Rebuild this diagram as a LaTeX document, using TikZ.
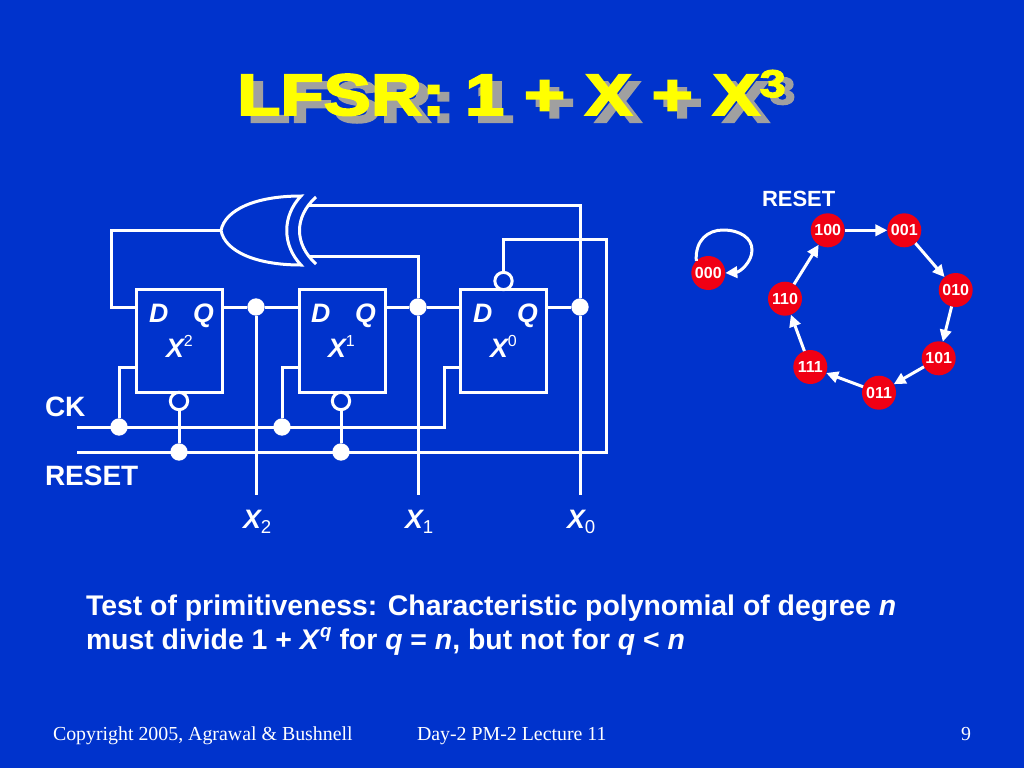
\documentclass[tikz,border=0pt]{standalone}
\usepackage{fontspec}
\setmainfont{Liberation Sans}
\newfontfamily\serifx{Liberation Serif}
\newfontfamily\titlef{Liberation Sans}[BoldFeatures={FakeBold=3}]
\usetikzlibrary{arrows.meta}
\definecolor{bgblue}{RGB}{0,51,204}
\definecolor{titlegray}{RGB}{160,160,160}
\definecolor{stred}{RGB}{240,0,20}
\definecolor{ttl}{RGB}{255,255,0}
\newcommand\supx[1]{\raisebox{0.38em}{\fontsize{12}{12}\mdseries\upshape #1}}
\newcommand\subx[1]{\raisebox{-0.2em}{\fontsize{14}{14}\mdseries\upshape #1}}
\newcommand\ttext{\fontsize{44}{50}\titlef\bfseries LFSR: 1 + X + X\raisebox{13.5pt}{\fontsize{29}{30}\selectfont 3}}
\tikzset{
  x=0.75pt,y=-0.75pt,
  wire/.style={draw=white,line width=2.25pt,line join=miter},
  ffbox/.style={draw=white,line width=2.25pt,minimum width=64.5pt,minimum height=77pt,inner sep=0pt,outer sep=0pt},
  dotn/.style={circle,fill=white,minimum size=13pt,inner sep=0pt,outer sep=0pt},
  bub/.style={circle,draw=white,line width=2.25pt,minimum size=13pt,inner sep=0pt,outer sep=0pt},
  lbl/.style={anchor=base west,inner sep=0pt,outer sep=0pt,text=white,font=\fontsize{21}{24}\selectfont\bfseries},
  ilbl/.style={lbl,font=\fontsize{20}{24}\selectfont\bfseries\itshape},
  body/.style={lbl,font=\fontsize{21.3}{24}\selectfont\bfseries},
  foot/.style={lbl,font=\fontsize{14.9}{16}\serifx},
  st/.style={circle,fill=stred,minimum size=25.5pt,inner sep=0pt,outer sep=0pt,text=white,font=\fontsize{12}{14}\selectfont\bfseries},
  trans/.style={draw=white,line width=2.25pt,-{Triangle[length=9pt,width=8.5pt]}},
  ttlnode/.style={anchor=base west,inner sep=0pt,xscale=1.205},
}
\begin{document}
\begin{tikzpicture}
\fill[bgblue,use as bounding box] (0,0) rectangle (1024,768);

% title
\node[ttlnode,text=titlegray] (titleshadow) at (246.7,122.3) {\ttext};
\node[ttlnode,text=ttl] (title) at (237,115) {\ttext};

% flip-flops
\node[ffbox] (b2) at (179,341) {};
\node[ffbox] (b1) at (342,341) {};
\node[ffbox] (b0) at (503.5,341) {};

% bubbles
\node[bub] (r2) at (179,401) {};
\node[bub] (r1) at (341,401) {};
\node[bub] (r0) at (503.5,281) {};

% junctions
\node[dotn] (q2) at (256,307) {};
\node[dotn] (q1) at (418,307) {};
\node[dotn] (q0) at (580,307) {};
\node[dotn] (c2) at (119,427) {};
\node[dotn] (c1) at (282,427) {};
\node[dotn] (s2) at (179,452) {};
\node[dotn] (s1) at (341,452) {};

% free ends
\coordinate (ckl) at (77,427);
\coordinate (ckr) at (444,427);
\coordinate (rsl) at (77,452);
\coordinate (rsr) at (606,452);
\coordinate (x2e) at (256,495);
\coordinate (x1e) at (418,495);
\coordinate (x0e) at (580,495);
\coordinate (xorin) at (221,230.5);
\coordinate (xoru) at (308,205);
\coordinate (xorl) at (308,256);

% XOR gate
\draw[wire] (301,196) .. controls (255,196) and (225,210) .. (xorin)
  .. controls (225,251) and (255,265) .. (301,265)
  .. controls (282,245) and (282,216) .. cycle;
\draw[wire] (316,197) .. controls (294,217) and (294,244) .. (316,264);

% shift wires
\draw[wire] (b2.west |- q2) -- ++(-25,0) |- (xorin);
\draw[wire] (b2.east |- q2) -- (q2) -- (b1.west |- q2);
\draw[wire] (b1.east |- q1) -- (q1) -- (b0.west |- q1);
\draw[wire] (b0.east |- q0) -- (q0);
\draw[wire] (xoru) -| (q0);
\draw[wire] (xorl) -| (q1);
\draw[wire] (q2) -- (x2e);
\draw[wire] (q1) -- (x1e);
\draw[wire] (q0) -- (x0e);

% clock
\draw[wire] (ckl) -- (ckr) |- (b0.west |- 0,367);
\draw[wire] (c2) |- (b2.west |- 0,367);
\draw[wire] (c1) |- (b1.west |- 0,367);

% reset
\draw[wire] (rsl) -- (rsr) |- (503.5,239) -- (r0);
\draw[wire] (s2) -- (r2);
\draw[wire] (s1) -- (r1);

% FF labels
\node[ilbl] (d2) at (149,322.5) {D};
\node[ilbl] (q2l) at (193,322.5) {Q};
\node[ilbl] (n2) at (166,357) {X\supx{2}};
\node[ilbl] (d1) at (311,322.5) {D};
\node[ilbl] (q1l) at (355,322.5) {Q};
\node[ilbl] (n1) at (328,357) {X\supx{1}};
\node[ilbl] (d0) at (473,322.5) {D};
\node[ilbl] (q0l) at (517,322.5) {Q};
\node[ilbl] (n0) at (490,357) {X\supx{0}};

\node[lbl] (ck) at (45,416) {CK};
\node[lbl] (rst) at (45,485) {RESET};
\node[ilbl] (o2) at (243,528) {X\subx{2}};
\node[ilbl] (o1) at (405,528) {X\subx{1}};
\node[ilbl] (o0) at (567,528) {X\subx{0}};

% state graph
\node[lbl,font=\fontsize{16.5}{18}\selectfont\bfseries] (rs2) at (762,206) {RESET};
\node[st] (s100) at (827.7,230.3) {100};
\node[st] (s001) at (904.3,230.3) {001};
\node[st] (s010) at (955.7,290) {010};
\node[st] (s101) at (938.7,358.3) {101};
\node[st] (s011) at (879,392.7) {011};
\node[st] (s111) at (810.3,367) {111};
\node[st] (s110) at (785,298.7) {110};
\node[st] (s000) at (708.3,273) {000};
\draw[trans] (s100) -- (s001);
\draw[trans] (s001) -- (s010);
\draw[trans] (s010) -- (s101);
\draw[trans] (s101) -- (s011);
\draw[trans] (s011) -- (s111);
\draw[trans] (s111) -- (s110);
\draw[trans] (s110) -- (s100);
\draw[trans] (s000.135) .. controls (695,240) and (708,230) .. (723,230)
  .. controls (740,230) and (752,238) .. (752,250)
  .. controls (752,262) and (740,272) .. (s000.east);

% text
\node[body] (t1) at (86,615) {Test of primitiveness: Characteristic polynomial of degree \textit{n}};
\node[body] (t2) at (86,649) {must divide 1 + \textit{X}\raisebox{0.42em}{\fontsize{14}{14}\selectfont\textit{q}} for \textit{q} = \textit{n}, but not for \textit{q} < \textit{n}};

% footer
\node[foot] (f1) at (53,740) {Copyright 2005, Agrawal \& Bushnell};
\node[foot] (f2) at (417,740) {Day-2 PM-2 Lecture 11};
\node[foot] (f3) at (961,740) {9};
\end{tikzpicture}
\end{document}
